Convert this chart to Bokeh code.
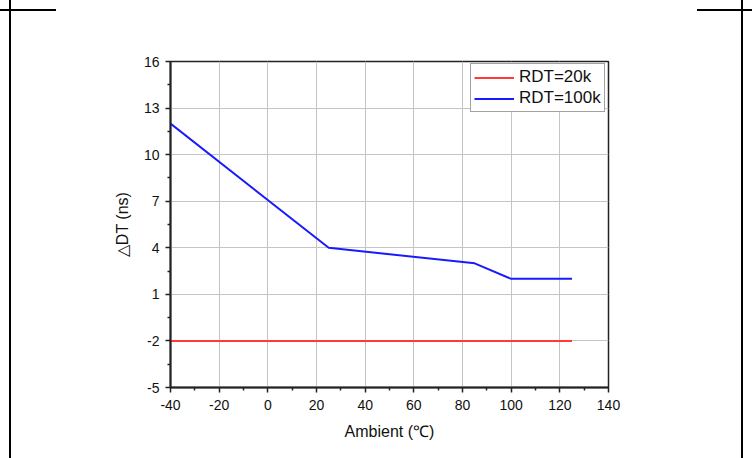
from bokeh.plotting import figure
from bokeh.models import FixedTicker, Range1d, Legend, LegendItem
from bokeh.embed import file_html
from bokeh.resources import INLINE

# data
ambient_20k = [-40, 125]
dt_20k = [-2, -2]
ambient_100k = [-40, 25, 85, 100, 125]
dt_100k = [12, 4, 3, 2, 2]
x_ticks = [-40, -20, 0, 20, 40, 60, 80, 100, 120, 140]
y_ticks = [-5, -2, 1, 4, 7, 10, 13, 16]

W, H = 752, 458
p = figure(width=W, height=H, output_backend="svg", toolbar_location=None,
           x_range=Range1d(-40, 140), y_range=Range1d(-5, 16),
           min_border_left=170, min_border_right=144, min_border_top=61, min_border_bottom=71)
p.background_fill_color = "white"
p.border_fill_color = "white"
p.border_fill_alpha = 0
p.outline_line_color = "#222222"
p.outline_line_width = 1.5
# page frame lines of the source document, drawn as CSS background of the plot element
p.styles = {
    "background-color": "white",
    "background-image": ", ".join(["linear-gradient(#000, #000)"] * 4),
    "background-size": "2px 100%, 2px 100%, 56px 2px, 55px 2px",
    "background-position": "9px 0px, 741px 0px, 0px 9px, 697px 9px",
    "background-repeat": "no-repeat",
}

p.xaxis.ticker = FixedTicker(ticks=x_ticks, minor_ticks=[v + 10 for v in x_ticks[:-1]])
p.yaxis.ticker = FixedTicker(ticks=y_ticks, minor_ticks=[v + 1.5 for v in y_ticks[:-1]])
p.xaxis.major_label_overrides = {v: str(v) for v in x_ticks}
p.yaxis.major_label_overrides = {v: str(v) for v in y_ticks}
for ax in (p.xaxis[0], p.yaxis[0]):
    ax.axis_line_color = "#222222"
    ax.axis_line_width = 2
    ax.major_tick_line_color = "#222222"
    ax.minor_tick_line_color = "#222222"
    ax.major_tick_line_width = 1.5
    ax.minor_tick_line_width = 1.5
    ax.major_tick_out = 5
    ax.major_tick_in = 0
    ax.minor_tick_out = 3
    ax.minor_tick_in = 0
    ax.major_label_text_font = "Liberation Sans"
    ax.major_label_text_font_size = "14px"
    ax.major_label_text_color = "#111111"
    ax.axis_label_text_font = "Liberation Sans"
    ax.axis_label_text_font_size = "16px"
    ax.axis_label_text_font_style = "normal"
    ax.axis_label_text_color = "#111111"
p.xaxis.axis_label = "Ambient (℃)"
p.yaxis.axis_label = "△DT (ns)"
p.xaxis.major_label_standoff = 7
p.xaxis.axis_label_standoff = 10
p.yaxis.major_label_standoff = 6
p.yaxis.axis_label_standoff = 10

p.xgrid.ticker = FixedTicker(ticks=x_ticks)
p.ygrid.ticker = FixedTicker(ticks=y_ticks)
p.grid.grid_line_color = "#c4c4c4"
p.grid.grid_line_width = 1

r1 = p.line(ambient_20k, dt_20k, line_color="#ff3a3a", line_width=2)
r2 = p.line(ambient_100k, dt_100k, line_color="#1a1aff", line_width=2)

legend = Legend(items=[LegendItem(label="RDT=20k", renderers=[r1]),
                       LegendItem(label="RDT=100k", renderers=[r2])],
                location=(300, 275))
legend.label_text_font = "Liberation Sans"
legend.label_text_font_size = "17px"
legend.label_text_color = "#111111"
legend.glyph_width = 40
legend.glyph_height = 17
legend.label_height = 17
legend.label_standoff = 5
legend.spacing = 1
legend.padding = 3
legend.margin = 0
legend.border_line_color = "#444444"
legend.border_line_width = 1
legend.background_fill_color = "white"
legend.background_fill_alpha = 1
p.add_layout(legend, "center")

open("out.html", "w").write(file_html(p, INLINE))
